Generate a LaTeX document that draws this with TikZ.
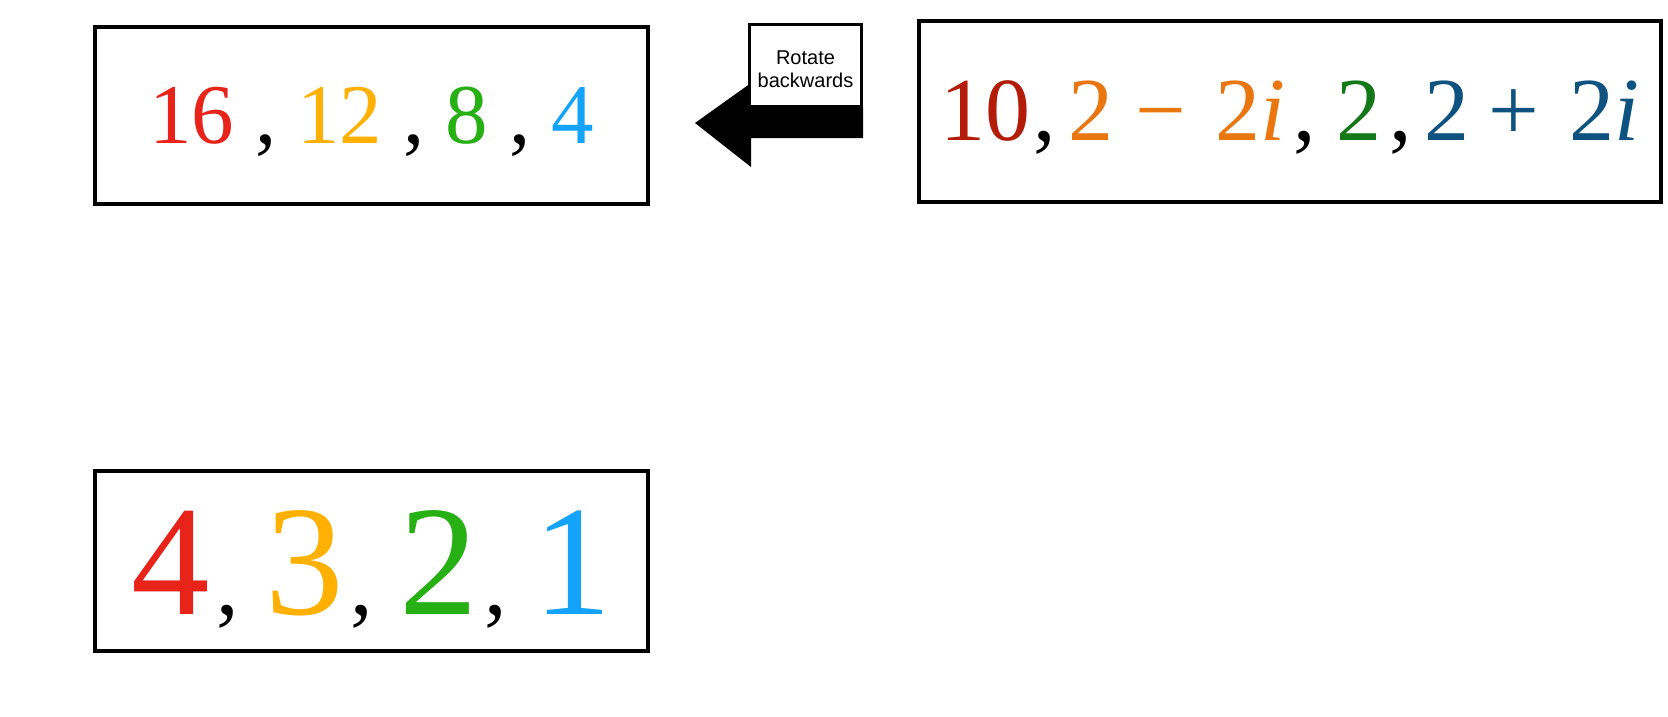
\documentclass[tikz,border=0pt]{standalone}
\usepackage{fontspec}
\setmainfont{Liberation Serif}
\newfontfamily\calloutfont{Liberation Sans}
\usepackage{xcolor}
\usetikzlibrary{shadows}

% colours of the entries
\definecolor{valred}{RGB}{232,35,25}
\definecolor{valamber}{RGB}{255,176,0}
\definecolor{valgreen}{RGB}{38,176,20}
\definecolor{valsky}{RGB}{20,163,250}
\definecolor{specbrick}{RGB}{178,28,8}
\definecolor{specorange}{RGB}{234,118,16}
\definecolor{specgreen}{RGB}{20,120,25}
\definecolor{specnavy}{RGB}{14,82,128}

\newcommand{\smallcomma}{{\fontsize{90}{90}\selectfont,}}

\begin{document}
\begin{tikzpicture}[x=1pt, y=-1pt,
    numbox/.style={draw=black, line width=3.5pt, fill=white, inner sep=0pt,
                   drop shadow={shadow xshift=1.5pt, shadow yshift=-2pt, opacity=0.2}}]
\useasboundingbox (0,0) rectangle (1668,716);

\node[numbox, minimum width=553pt, minimum height=177pt, text height=65pt, text depth=10pt,
      font=\fontsize{85}{85}\selectfont] (powers) at (371.5,115.5)
      {\textcolor{valred}{16}\hspace{21pt},\hspace{21pt}\textcolor{valamber}{12}\hspace{21pt},\hspace{21pt}%
       \textcolor{valgreen}{8}\hspace{21pt},\hspace{21pt}\textcolor{valsky}{4}};

\node[numbox, minimum width=742pt, minimum height=181pt, text height=68pt, text depth=10pt,
      font=\fontsize{90}{90}\selectfont] (spectrum) at (1290,111.5)
      {\textcolor{specbrick}{10}\hspace{3pt},\hspace{13pt}%
       \textcolor{specorange}{2\hspace{22pt}−\hspace{29pt}2\textit{i}}\hspace{8pt},\hspace{20pt}%
       \textcolor{specgreen}{2}\hspace{8pt},\hspace{13pt}%
       \textcolor{specnavy}{2\hspace{19pt}+\hspace{30pt}2\textit{i}}};

\node[numbox, minimum width=553pt, minimum height=180pt, text height=116pt, text depth=10pt,
      font=\fontsize{157}{157}\selectfont] (roots) at (371.5,561)
      {\textcolor{valred}{4}\hspace{7pt}\smallcomma\hspace{26pt}\textcolor{valamber}{3}\hspace{7pt}\smallcomma\hspace{26pt}%
       \textcolor{valgreen}{2}\hspace{7pt}\smallcomma\hspace{26pt}\textcolor{valsky}{1}};

% callout arrow
\fill[black] (863,107) -- (863,138) -- (751,138) -- (751,167) -- (695,123)
             -- (751,83) -- (751,107) -- cycle;
\node[draw=black, line width=3pt, fill=white, minimum width=112pt, minimum height=82pt,
      align=center, font=\calloutfont\fontsize{20}{23}\selectfont] (rotlabel) at (805.5,65.5)
      {\rule{0pt}{21pt}Rotate\\backwards};
\end{tikzpicture}
\end{document}
